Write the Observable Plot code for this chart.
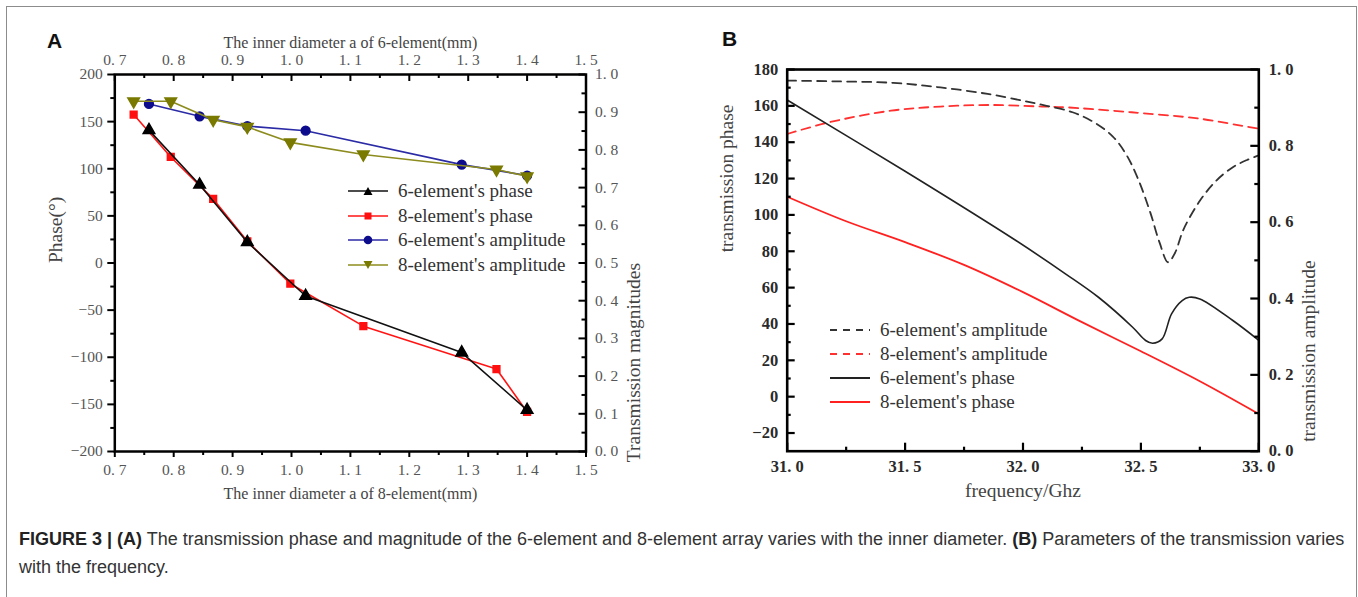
<!DOCTYPE html>
<html>
<head>
<meta charset="utf-8">
<script src="https://cdn.jsdelivr.net/npm/d3@7"></script>
<script src="https://cdn.jsdelivr.net/npm/@observablehq/plot@0.6"></script>
<style>
  body { margin: 0; background: white; }
  #fig { position: relative; width: 1358px; height: 597px; overflow: hidden; background: white; }
  .abs { position: absolute; }
  .panel-label { font-family: "Liberation Sans", Arial, sans-serif; font-weight: bold; font-size: 21px; color: #111; }
  .legend-row { position: absolute; display: flex; align-items: center; height: 24px; white-space: nowrap;
    font-family: "Liberation Serif", "Times New Roman", serif; font-size: 19px; color: #333; }
  .legend-row svg { margin-right: 10px; }
  .caption { font-family: "Liberation Sans", Arial, sans-serif; font-size: 18px; color: #333; white-space: nowrap; }
  .caption b { color: #222; }
</style>
</head>
<body>
<div id="fig">
  <div class="abs" style="left:6px;top:6px;width:1349px;height:620px;border:1.5px solid #8c8c8c;"></div>
  <div id="panelA" class="abs" style="left:0;top:0;width:680px;height:530px;"></div>
  <div id="panelB" class="abs" style="left:680px;top:0;width:678px;height:530px;"></div>
  <div class="abs panel-label" style="left:47px;top:29px;">A</div>
  <div class="abs panel-label" style="left:722px;top:27px;">B</div>
  <div id="legendA"></div>
  <div id="legendB"></div>
  <div class="abs caption" style="left:19px;top:529px;"><b>FIGURE 3 | (A)</b> The transmission phase and magnitude of the 6-element and 8-element array varies with the inner diameter. <b>(B)</b> Parameters of the transmission varies</div>
  <div class="abs caption" style="left:19px;top:557px;">with the frequency.</div>
</div>
<script>
// ---------------- Panel A data ----------------
const diam6 = [0.758, 0.844, 0.925, 1.024, 1.289, 1.400];          // top axis: inner diameter of 6-element (mm)
const phase6 = [141, 83, 22, -35, -95, -156];                       // 6-element's phase (°)
const amp6 = [0.922, 0.889, 0.863, 0.851, 0.761, 0.732];            // 6-element's amplitude
const diam8 = [0.732, 0.795, 0.867, 0.925, 0.998, 1.122, 1.348, 1.400]; // bottom axis: inner diameter of 8-element (mm)
const phase8 = [157.5, 112.5, 68, 23, -22, -67, -112.5, -158];       // 8-element's phase (°)
const amp8 = [0.929, 0.929, 0.880, 0.861, 0.820, 0.788, 0.748, 0.730]; // 8-element's amplitude

const xTicksA = [0.7, 0.8, 0.9, 1.0, 1.1, 1.2, 1.3, 1.4, 1.5];
const yTicksA = [-200, -150, -100, -50, 0, 50, 100, 150, 200];
const ampTicksA = [0, 0.1, 0.2, 0.3, 0.4, 0.5, 0.6, 0.7, 0.8, 0.9, 1.0];

// ---------------- Panel B data ----------------
const freqAmp6 = [31.0, 31.2, 31.45, 31.65, 31.85, 32.0, 32.1, 32.21, 32.3, 32.38, 32.44, 32.49, 32.54, 32.58, 32.615, 32.645, 32.68, 32.75, 32.82, 32.89, 32.95, 33.0];
const amp6B = [0.971, 0.969, 0.965, 0.953, 0.936, 0.918, 0.905, 0.888, 0.862, 0.825, 0.775, 0.71, 0.625, 0.545, 0.495, 0.52, 0.58, 0.656, 0.709, 0.744, 0.763, 0.775];
const freqAmp8 = [31.0, 31.18, 31.44, 31.65, 31.86, 32.08, 32.18, 32.46, 32.75, 32.96, 33.0];
const amp8B = [0.831, 0.862, 0.892, 0.903, 0.907, 0.903, 0.901, 0.888, 0.871, 0.849, 0.845];
const freqPh6 = [31.0, 31.5, 31.97, 32.18, 32.32, 32.465, 32.52, 32.55, 32.59, 32.63, 32.675, 32.705, 32.75, 32.89, 33.0];
const phase6B = [163.2, 124, 85.9, 67.6, 54.7, 38.2, 30.9, 29.4, 31.8, 45.6, 52.9, 54.7, 53.8, 41.9, 31];
const freqPh8 = [31.0, 31.25, 31.5, 31.75, 32.0, 32.25, 32.5, 32.75, 33.0];
const phase8B = [110, 96.5, 85, 72.5, 57.5, 41, 25, 8.5, -9.5];

const xTicksB = [31.0, 31.5, 32.0, 32.5, 33.0];
const yTicksB = [-20, 0, 20, 40, 60, 80, 100, 120, 140, 160, 180];
const ampTicksB = [0, 0.2, 0.4, 0.6, 0.8, 1.0];

// ---------------- helpers ----------------
const fmt1 = d => (Math.round(d * 10) / 10).toFixed(1).replace(".", ". ");
const fmtInt = d => (d < 0 ? "\u2212" : "") + Math.abs(Math.round(d));
const zip = (xs, ys) => xs.map((x, i) => ({x, y: ys[i]}));
const mids = (ticks) => ticks.slice(0, -1).map((t, i) => (t + ticks[i + 1]) / 2);

// ---------------- Panel A ----------------
{
  const W = 680, H = 530;
  const mL = 114.3, mR = W - 585.5, mT = 74, mB = H - 451;
  const iW = W - mL - mR, iH = H - mT - mB;
  const a2p = a => -200 + a * 400;
  const p2a = p => (p + 200) / 400;

  const ph6 = zip(diam6, phase6), ph8 = zip(diam8, phase8);
  const am6 = zip(diam6, amp6.map(a2p)), am8 = zip(diam8, amp8.map(a2p));
  const tickStyle = {stroke: "#000", strokeWidth: 2};
  const textStyle = {fill: "#555", fontSize: 15.5, fontFamily: "Liberation Serif, serif", label: null};

  const plotA = Plot.plot({
    width: W, height: H,
    marginLeft: mL, marginRight: mR, marginTop: mT, marginBottom: mB,
    style: {background: "transparent", maxWidth: "none", fontFamily: "Liberation Serif, serif"},
    x: {domain: [0.7, 1.5], axis: null},
    y: {domain: [-200, 200], axis: null},
    marks: [
      Plot.line(am6, {x: "x", y: "y", stroke: "#2b2ba6", strokeWidth: 1.6}),
      Plot.dot(am6, {x: "x", y: "y", symbol: "circle", r: 4.4, fill: "#0c0c8c", stroke: "#0c0c8c"}),
      Plot.line(am8, {x: "x", y: "y", stroke: "#8c8c1e", strokeWidth: 1.6}),
      Plot.dot(am8, {x: "x", y: "y", symbol: "triangle", rotate: 180, r: 4.3, fill: "#7a7a00", stroke: "#7a7a00"}),
      Plot.line(ph8, {x: "x", y: "y", stroke: "#ff1414", strokeWidth: 1.6}),
      Plot.dot(ph8, {x: "x", y: "y", symbol: "square", r: 3.8, fill: "#ff1010", stroke: "#ff1010"}),
      Plot.line(ph6, {x: "x", y: "y", stroke: "#111", strokeWidth: 1.6}),
      Plot.dot(ph6, {x: "x", y: "y", symbol: "triangle", r: 4.3, fill: "#000", stroke: "#000"}),
      Plot.frame({stroke: "#000", strokeWidth: 2.5}),
      // left axis (outward ticks)
      Plot.axisY({anchor: "left", ticks: yTicksA, tickSize: 7, tickPadding: 5, tickFormat: fmtInt, ...tickStyle, ...textStyle}),
      Plot.axisY({anchor: "left", ticks: mids(yTicksA), tickSize: 4, fill: "none", label: null, ...tickStyle}),
      // bottom axis (outward ticks)
      Plot.axisX({anchor: "bottom", ticks: xTicksA, tickSize: 6, tickPadding: 6, tickFormat: fmt1, ...tickStyle, ...textStyle}),
      Plot.axisX({anchor: "bottom", ticks: mids(xTicksA), tickSize: 4, fill: "none", label: null, ...tickStyle}),
      // top axis (inward ticks)
      Plot.axisX({anchor: "top", ticks: xTicksA, tickSize: 0, tickPadding: 10, tickFormat: fmt1, ...textStyle}),
      Plot.tickX(xTicksA, {x: d => d, insetBottom: iH - 7, ...tickStyle}),
      Plot.tickX(mids(xTicksA), {x: d => d, insetBottom: iH - 4, ...tickStyle}),
      // right axis: transmission magnitudes (inward ticks)
      Plot.axisY({anchor: "right", ticks: ampTicksA.map(a2p), tickSize: 0, tickPadding: 9, tickFormat: d => fmt1(p2a(d)), ...textStyle}),
      Plot.tickY(ampTicksA.map(a2p), {y: d => d, insetLeft: iW - 7, ...tickStyle}),
      Plot.tickY(mids(ampTicksA).map(a2p), {y: d => d, insetLeft: iW - 4, ...tickStyle}),
      // axis titles
      Plot.text(["The inner diameter a of 6-element(mm)"], {text: d => d, frameAnchor: "top", dy: -38, fontSize: 16, fill: "#444"}),
      Plot.text(["The inner diameter a of 8-element(mm)"], {text: d => d, frameAnchor: "bottom", dy: 47, fontSize: 16, fill: "#444"}),
      Plot.text(["Phase(°)"], {text: d => d, frameAnchor: "left", dx: -59, rotate: -90, fontSize: 19.5, fill: "#444"}),
      Plot.text(["Transmission magnitudes"], {text: d => d, frameAnchor: "right", dx: 48, rotate: -90, fontSize: 19.5, fill: "#444"})
    ]
  });
  document.getElementById("panelA").appendChild(plotA);
}

// ---------------- Panel B ----------------
{
  const W = 678, H = 530;
  const mL = 106.7, mR = W - 578.3, mT = 69, mB = H - 450.7;
  const iW = W - mL - mR, iH = H - mT - mB;
  const a2p = a => -30 + a * 210;
  const p2a = p => (p + 30) / 210;

  const d6a = zip(freqAmp6, amp6B.map(a2p)), d8a = zip(freqAmp8, amp8B.map(a2p));
  const d6p = zip(freqPh6, phase6B), d8p = zip(freqPh8, phase8B);
  const tickStyle = {stroke: "#000", strokeWidth: 2.2};
  const textStyle = {fill: "#2a2a2a", fontSize: 16.5, fontWeight: "bold", fontFamily: "Liberation Serif, serif", label: null};

  const plotB = Plot.plot({
    width: W, height: H,
    marginLeft: mL, marginRight: mR, marginTop: mT, marginBottom: mB,
    style: {background: "transparent", maxWidth: "none", fontFamily: "Liberation Serif, serif"},
    x: {domain: [31, 33], axis: null},
    y: {domain: [-30, 180], axis: null},
    marks: [
      Plot.line(d8a, {x: "x", y: "y", stroke: "#ff3030", strokeWidth: 1.8, strokeDasharray: "9,6", curve: "catmull-rom"}),
      Plot.line(d6a, {x: "x", y: "y", stroke: "#333", strokeWidth: 1.8, strokeDasharray: "9,6", curve: "catmull-rom"}),
      Plot.line(d8p, {x: "x", y: "y", stroke: "#ff2020", strokeWidth: 1.8, curve: "catmull-rom"}),
      Plot.line(d6p, {x: "x", y: "y", stroke: "#222", strokeWidth: 1.6, curve: "catmull-rom"}),
      Plot.frame({stroke: "#000", strokeWidth: 2.6}),
      // left axis labels + inward ticks
      Plot.axisY({anchor: "left", ticks: yTicksB, tickSize: 0, tickPadding: 9, tickFormat: fmtInt, ...textStyle}),
      Plot.tickY(yTicksB, {y: d => d, insetRight: iW - 8, ...tickStyle}),
      Plot.tickY(mids(yTicksB), {y: d => d, insetRight: iW - 4, ...tickStyle}),
      // bottom axis
      Plot.axisX({anchor: "bottom", ticks: xTicksB, tickSize: 0, tickPadding: 9, tickFormat: fmt1, ...textStyle}),
      Plot.tickX(xTicksB, {x: d => d, insetTop: iH - 8, ...tickStyle}),
      Plot.tickX(mids(xTicksB), {x: d => d, insetTop: iH - 4, ...tickStyle}),
      // right axis: transmission amplitude
      Plot.axisY({anchor: "right", ticks: ampTicksB.map(a2p), tickSize: 0, tickPadding: 10, tickFormat: d => fmt1(p2a(d)), ...textStyle}),
      Plot.tickY(ampTicksB.map(a2p), {y: d => d, insetLeft: iW - 8, ...tickStyle}),
      Plot.tickY(mids(ampTicksB).map(a2p), {y: d => d, insetLeft: iW - 4, ...tickStyle}),
      // titles
      Plot.text(["frequency/Ghz"], {text: d => d, frameAnchor: "bottom", dy: 46, fontSize: 19.5, fill: "#444"}),
      Plot.text(["transmission phase"], {text: d => d, frameAnchor: "left", dx: -60, dy: -8, rotate: -90, fontSize: 19.5, fill: "#444"}),
      Plot.text(["transmission amplitude"], {text: d => d, frameAnchor: "right", dx: 50, rotate: -90, fontSize: 19.5, fill: "#444"})
    ]
  });
  document.getElementById("panelB").appendChild(plotB);
}

// ---------------- Legends (HTML) ----------------
function swatchA(color, lineColor, shape) {
  let m = "";
  if (shape === "tri") m = `<polygon points="20,3 24.5,11 15.5,11" fill="${color}"/>`;
  if (shape === "tridown") m = `<polygon points="15.5,3 24.5,3 20,11" fill="${color}"/>`;
  if (shape === "sq") m = `<rect x="16.5" y="3.5" width="7" height="7" fill="${color}"/>`;
  if (shape === "circ") m = `<circle cx="20" cy="7" r="4.3" fill="${color}"/>`;
  return `<svg width="40" height="14"><line x1="0" y1="7" x2="40" y2="7" stroke="${lineColor}" stroke-width="1.6"/>${m}</svg>`;
}
const legendAItems = [
  {label: "6-element's phase", color: "#000", line: "#111", shape: "tri"},
  {label: "8-element's phase", color: "#ff1010", line: "#ff1414", shape: "sq"},
  {label: "6-element's amplitude", color: "#0c0c8c", line: "#2b2ba6", shape: "circ"},
  {label: "8-element's amplitude", color: "#7a7a00", line: "#8c8c1e", shape: "tridown"}
];
const legA = document.getElementById("legendA");
legendAItems.forEach((it, i) => {
  const row = document.createElement("div");
  row.className = "legend-row";
  row.style.left = "348px";
  row.style.top = (179 + i * 24.5) + "px";
  row.innerHTML = swatchA(it.color, it.line, it.shape) + `<span>${it.label}</span>`;
  legA.appendChild(row);
});
const legendBItems = [
  {label: "6-element's amplitude", color: "#333", dash: "7,6"},
  {label: "8-element's amplitude", color: "#ff3030", dash: "7,6"},
  {label: "6-element's phase", color: "#222", dash: null},
  {label: "8-element's phase", color: "#ff2020", dash: null}
];
const legB = document.getElementById("legendB");
legendBItems.forEach((it, i) => {
  const row = document.createElement("div");
  row.className = "legend-row";
  row.style.left = "830px";
  row.style.top = (318 + i * 24) + "px";
  row.innerHTML = `<svg width="40" height="6"><line x1="0" y1="3" x2="40" y2="3" stroke="${it.color}" stroke-width="1.8" ${it.dash ? `stroke-dasharray="${it.dash}"` : ""}/></svg><span>${it.label}</span>`;
  legB.appendChild(row);
});
</script>
</body>
</html>
